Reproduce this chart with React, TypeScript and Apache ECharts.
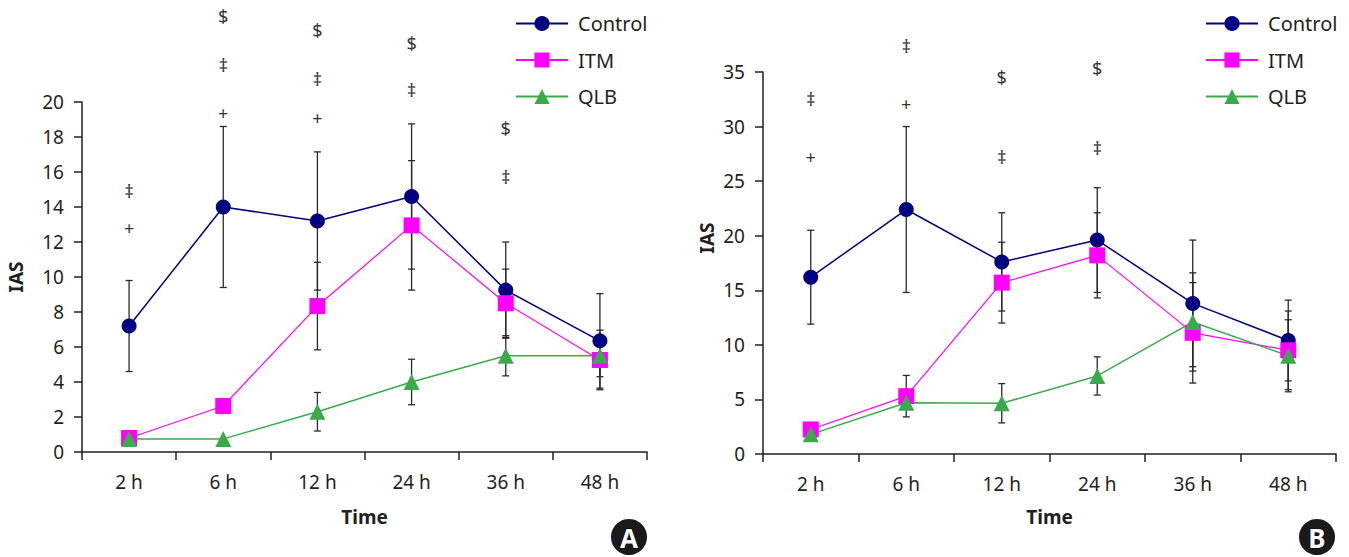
import React, { useEffect, useRef } from "react";
import * as echarts from "echarts";

const categories = ["2 h", "6 h", "12 h", "24 h", "36 h", "48 h"];

// Panel A values
const controlA = [7.2, 14.0, 13.2, 14.6, 9.25, 6.35];
const controlSdA = [2.6, 4.6, 3.95, 4.15, 2.75, 2.7];
const itmA = [0.8, 2.63, 8.34, 12.95, 8.5, 5.26];
const itmSdA = [0, 0, 2.5, 3.7, 1.95, 1.7];
const qlbA = [0.75, 0.75, 2.3, 4.0, 5.5, 5.5];
const qlbSdA = [0, 0, 1.1, 1.3, 1.15, 1.2];

// Panel B values
const controlB = [16.2, 22.4, 17.6, 19.6, 13.8, 10.4];
const controlSdB = [4.3, 7.6, 4.5, 4.8, 5.8, 3.7];
const itmB = [2.25, 5.3, 15.7, 18.2, 11.1, 9.5];
const itmSdB = [0, 1.9, 3.7, 3.9, 4.6, 3.6];
const qlbB = [1.8, 4.7, 4.65, 7.15, 12.1, 9.0];
const qlbSdB = [0, 0.5, 1.8, 1.75, 4.5, 3.3];

// Significance marks: [category index, value, symbol]
const marksA: [number, number, string][] = [
  [0, 14.9, "‡"], [0, 12.8, "+"],
  [1, 24.9, "$"], [1, 22.1, "‡"], [1, 19.4, "+"],
  [2, 24.1, "$"], [2, 21.3, "‡"], [2, 19.07, "+"],
  [3, 23.35, "$"], [3, 20.7, "‡"],
  [4, 18.5, "$"], [4, 15.73, "‡"],
];
const marksB: [number, number, string][] = [
  [0, 32.5, "‡"], [0, 27.2, "+"],
  [1, 37.4, "‡"], [1, 32.1, "+"],
  [2, 34.5, "$"], [2, 27.25, "‡"],
  [3, 35.35, "$"], [3, 28.0, "‡"],
];

const yTicksA = { min: 0, max: 20, interval: 2 };
const yTicksB = { min: 0, max: 35, interval: 5 };

const FONT = "'Noto Sans', sans-serif";
const TXT = "#231f20";
const NAVY = "#000080";
const MAGENTA = "#ff00ff";
const GREEN = "#3aaa4a";

function errData(mean: number[], sd: number[]) {
  return mean
    .map((m, i) => [i, m - sd[i], m + sd[i], sd[i]])
    .filter((d) => d[3] > 0);
}

const errRender = (params: any, api: any) => {
  const x = api.value(0);
  const lo = api.coord([x, api.value(1)]);
  const hi = api.coord([x, api.value(2)]);
  const w = 3.5;
  const style = { stroke: "#2a2a2a", lineWidth: 1.3 };
  return {
    type: "group",
    children: [
      { type: "line", shape: { x1: lo[0], y1: lo[1], x2: hi[0], y2: hi[1] }, style },
      { type: "line", shape: { x1: lo[0] - w, y1: lo[1], x2: lo[0] + w, y2: lo[1] }, style },
      { type: "line", shape: { x1: hi[0] - w, y1: hi[1], x2: hi[0] + w, y2: hi[1] }, style },
    ],
  };
};

export default function App() {
  const ref = useRef<HTMLDivElement>(null);
  useEffect(() => {
    document.body.style.margin = "0";
    const chart = echarts.init(ref.current!, null, { renderer: "svg" });

    const xAxisBase = (gridIndex: number, nameGap: number) => ({
      type: "category",
      gridIndex,
      data: categories,
      boundaryGap: true,
      name: "Time",
      nameLocation: "middle",
      nameGap,
      nameTextStyle: { fontFamily: FONT, fontSize: 19, fontWeight: "bold", color: TXT },
      axisLine: { lineStyle: { color: TXT, width: 1.5 } },
      axisTick: { show: true, length: 8, lineStyle: { color: TXT, width: 1.5 } },
      axisLabel: { fontFamily: FONT, fontSize: 19, color: TXT, margin: 20 },
      splitLine: { show: false },
    });
    const yAxisBase = (gridIndex: number, t: any, nameGap: number, pad: number[]) => ({
      type: "value",
      gridIndex,
      min: t.min,
      max: t.max,
      interval: t.interval,
      name: "IAS",
      nameLocation: "middle",
      nameGap,
      nameTextStyle: { fontFamily: FONT, fontSize: 19, fontWeight: "bold", color: TXT, padding: pad },
      axisLine: { show: true, lineStyle: { color: TXT, width: 1.5 } },
      axisTick: { show: true, length: 8, lineStyle: { color: TXT, width: 1.5 } },
      axisLabel: { fontFamily: FONT, fontSize: 19, color: TXT, margin: 18 },
      splitLine: { show: false },
    });

    const lineSeries = (name: string, data: number[], idx: number, color: string, symbol: string, size: number, width: number) => ({
      type: "line",
      name,
      xAxisIndex: idx,
      yAxisIndex: idx,
      data,
      symbol,
      symbolSize: size,
      showAllSymbol: true,
      lineStyle: { color, width },
      itemStyle: { color, borderWidth: 0 },
      z: 3,
    });
    const errSeries = (mean: number[], sd: number[], idx: number) => ({
      type: "custom",
      xAxisIndex: idx,
      yAxisIndex: idx,
      data: errData(mean, sd),
      renderItem: errRender,
      encode: { x: 0, y: [1, 2] },
      itemStyle: { color: "#2a2a2a" },
      z: 2,
      silent: true,
    });
    const markSeries = (marks: [number, number, string][], idx: number) => ({
      type: "custom",
      xAxisIndex: idx,
      yAxisIndex: idx,
      clip: false,
      silent: true,
      itemStyle: { color: "#333" },
      data: marks.map((m) => [m[0], m[1]]),
      encode: { x: 0, y: 1 },
      renderItem: (params: any, api: any) => {
        const p = api.coord([api.value(0), api.value(1)]);
        return {
          type: "text",
          x: p[0],
          y: p[1],
          style: {
            text: marks[params.dataIndex][2],
            fill: "#333",
            stroke: "none",
            lineWidth: 0,
            font: `18px ${FONT}`,
            align: "center",
            verticalAlign: "middle",
          },
        };
      },
      z: 4,
    });

    const legendBase = (left: number) => ({
      data: ["Control", "ITM", "QLB"],
      orient: "vertical",
      left,
      top: 8.5,
      itemWidth: 52,
      itemHeight: 19,
      itemGap: 16.5,
      textStyle: { fontFamily: FONT, fontSize: 20, color: TXT, padding: [0, 0, 0, 5] },
      selectedMode: false,
    });

    const badge = (cx: number, cy: number, letter: string) => ({
      type: "group",
      children: [
        { type: "circle", shape: { cx, cy, r: 18 }, style: { fill: "#1a1a1a" } },
        {
          type: "text",
          x: cx,
          y: cy + 1,
          style: {
            text: letter,
            fill: "#fff",
            stroke: "#000",
            lineWidth: 1,
            font: `bold 26px ${FONT}`,
            align: "center",
            verticalAlign: "middle",
          },
        },
      ],
    });

    chart.setOption({
      animation: false,
      backgroundColor: "#fff",
      grid: [
        { left: 82, top: 102, width: 565, height: 350 },
        { left: 763, top: 72, width: 573, height: 382 },
      ],
      legend: [legendBase(510), legendBase(1200)],
      xAxis: [xAxisBase(0, 55), xAxisBase(1, 53)],
      yAxis: [yAxisBase(0, yTicksA, 57, [0, 0, 0, 0]), yAxisBase(1, yTicksB, 47, [0, 0, 0, 50])],
      series: [
        errSeries(controlA, controlSdA, 0),
        errSeries(itmA, itmSdA, 0),
        errSeries(qlbA, qlbSdA, 0),
        lineSeries("Control", controlA, 0, NAVY, "circle", 15, 1.5),
        lineSeries("ITM", itmA, 0, MAGENTA, "rect", 16, 1.2),
        lineSeries("QLB", qlbA, 0, GREEN, "triangle", 16, 1.5),
        markSeries(marksA, 0),
        errSeries(controlB, controlSdB, 1),
        errSeries(itmB, itmSdB, 1),
        errSeries(qlbB, qlbSdB, 1),
        lineSeries("Control", controlB, 1, NAVY, "circle", 15, 1.5),
        lineSeries("ITM", itmB, 1, MAGENTA, "rect", 16, 1.2),
        lineSeries("QLB", qlbB, 1, GREEN, "triangle", 16, 1.5),
        markSeries(marksB, 1),
      ],
      graphic: [badge(629, 537, "A"), badge(1317, 537, "B")],
    });
    return () => chart.dispose();
  }, []);
  return <div ref={ref} style={{ width: 1349, height: 557 }} />;
}
